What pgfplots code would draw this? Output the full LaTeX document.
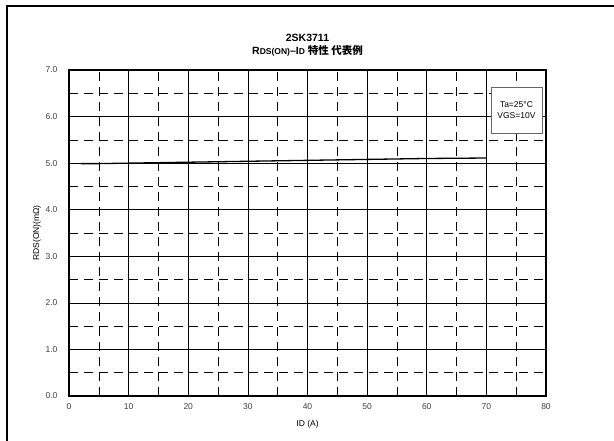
\documentclass[border=0pt]{standalone}
\usepackage{fontspec}
\setmainfont{Liberation Sans}
\newfontfamily\cjk{Noto Sans CJK JP}
\usepackage{pgfplots}
\pgfplotsset{compat=1.18}
\begin{document}
\begin{tikzpicture}
\useasboundingbox (0pt,0pt) rectangle (614pt,441pt);
\draw[line width=1.4pt] (7pt,-10pt) rectangle (640pt,435pt);
\begin{axis}[
  at={(69pt,45pt)}, anchor=origin,
  scale only axis, width=477pt, height=326pt,
  xmin=0, xmax=80, ymin=0, ymax=7,
  xtick={0,10,...,80}, ytick={0,1,...,7},
  minor xtick={5,15,...,75}, minor ytick={0.5,1.5,...,6.5},
  grid=both,
  major grid style={black, line width=0.6pt},
  minor grid style={black, line width=0.6pt, dash pattern=on 9pt off 6pt},
  axis line style={line width=1.2pt},
  clip=false,
  major tick length=0pt, minor tick length=0pt,
  tick style={draw=none},
  ticklabel style={font=\fontsize{8.5}{9}\selectfont, text=black!75},
  /pgf/number format/assume math mode=true,
  yticklabel style={/pgf/number format/fixed, /pgf/number format/fixed zerofill,
    /pgf/number format/precision=1, xshift=-8pt},
  xticklabel style={yshift=-4pt},
  xlabel={ID (A)}, ylabel={RDS(ON)(mΩ)},
  label style={font=\fontsize{8.5}{9}\selectfont},
  xlabel style={yshift=-4pt},
  ylabel style={yshift=-2pt},
]
\addplot[black, line width=1.3pt] coordinates {
  (2,4.99) (5,4.99) (10,5.00) (20,5.02) (30,5.04) (40,5.06) (50,5.08) (60,5.10) (70,5.11)
};
\node[draw=black!60, fill=white, line width=0.9pt, minimum width=51pt, minimum height=46pt,
  align=center, font=\fontsize{8.5}{11}\selectfont, inner sep=1pt]
  at (axis cs:75.05,6.14) {Ta=25°C\\VGS=10V};
\node[font=\bfseries\fontsize{10.5}{13.5}\selectfont, align=center, anchor=south]
  at (rel axis cs:0.5,1) [yshift=10pt]
  {2SK3711\\R{\fontsize{8.5}{9}\selectfont DS(ON)}–I{\fontsize{8.5}{9}\selectfont D} {\cjk\bfseries 特性 代表例}};
\end{axis}
\end{tikzpicture}
\end{document}
